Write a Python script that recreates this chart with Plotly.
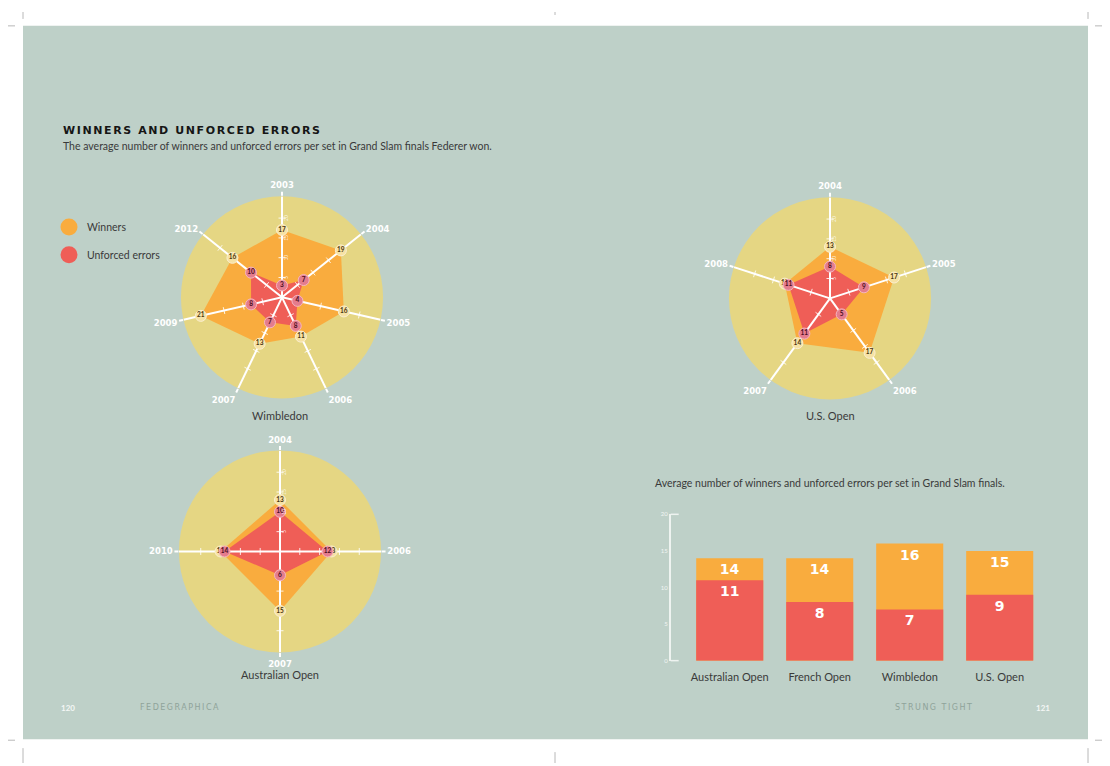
import plotly.graph_objects as go

# The page is shown with an 8px body margin, so the figure is laid out in
# picture pixels shifted by that offset.
OFF = 8
W, H = 1110 - OFF, 766 - OFF


def X(px):
    return (px - OFF) / W


def Y(py):
    return 1 - (py - OFF) / H


# ---------------- data ----------------
wim_years = ["2003", "2004", "2005", "2006", "2007", "2009", "2012"]
wim_winners = [17, 19, 16, 11, 13, 21, 16]
wim_errors = [3, 7, 4, 8, 7, 8, 10]

uso_years = ["2004", "2005", "2006", "2007", "2008"]
uso_winners = [13, 17, 17, 14, 12]
uso_errors = [8, 9, 5, 11, 11]

aus_years = ["2004", "2006", "2007", "2010"]
aus_winners = [13, 13, 15, 15]
aus_errors = [10, 12, 6, 14]

slams = ["Australian Open", "French Open", "Wimbledon", "U.S. Open"]
avg_winners = [14, 14, 16, 15]
avg_errors = [11, 8, 7, 9]

radial_ticks = [5, 10, 15, 20]
bar_ticks = [0, 5, 10, 15, 20]

# ---------------- style ----------------
PAGE = "#BED0C8"
DISC = "#E5D683"
ORANGE = "#F9AC3E"
RED = "#EF5E57"
W_MARK = "#F6E2A4"
E_MARK = "#E47C8D"
DARK = "#3A3A3A"
RMAX = 25.5
BODY = "Lato"
BOLD = "Lato"
GEO = "DejaVu Sans"

fig = go.Figure()


def add_radar(sub, years, winners, errors):
    fig.add_trace(go.Scatterpolar(r=winners, theta=years, fill="toself", fillcolor=ORANGE,
                                  mode="none", subplot=sub, hoverinfo="skip"))
    fig.add_trace(go.Scatterpolar(r=errors, theta=years, fill="toself", fillcolor=RED,
                                  mode="none", subplot=sub, hoverinfo="skip"))
    r_sp, t_sp = [], []
    for y in years:
        r_sp += [0, RMAX, None]
        t_sp += [y, y, None]
    fig.add_trace(go.Scatterpolar(r=r_sp, theta=t_sp, mode="lines",
                                  line=dict(color="white", width=2), subplot=sub,
                                  hoverinfo="skip"))
    n = len(years)
    tr, tt, ta = [], [], []
    for i, y in enumerate(years):
        for v in radial_ticks:
            tr.append(v)
            tt.append(y)
            ta.append(i * 360 / n)
    fig.add_trace(go.Scatterpolar(r=tr, theta=tt, mode="markers", subplot=sub, hoverinfo="skip",
                                  marker=dict(symbol="line-ew", size=5, angle=ta,
                                              line=dict(color="rgba(255,255,255,0.85)", width=1))))
    fig.add_trace(go.Scatterpolar(r=winners, theta=years, mode="markers+text", subplot=sub,
                                  text=[str(v) for v in winners], textposition="middle center",
                                  textfont=dict(family=BOLD, size=6.5, color="#4A3410", weight="bold"),
                                  marker=dict(size=11, color=W_MARK,
                                              line=dict(color="#FBEFD0", width=1))))
    fig.add_trace(go.Scatterpolar(r=errors, theta=years, mode="markers+text", subplot=sub,
                                  text=[str(v) for v in errors], textposition="middle center",
                                  textfont=dict(family=BOLD, size=6.5, color="#4A0E22", weight="bold"),
                                  marker=dict(size=11, color=E_MARK,
                                              line=dict(color="#F5B5C0", width=1))))


def polar_layout(years, cx, cy, rad):
    return dict(
        domain=dict(x=[X(cx - rad), X(cx + rad)], y=[Y(cy + rad), Y(cy - rad)]),
        bgcolor=DISC,
        angularaxis=dict(type="category", categoryorder="array", categoryarray=years,
                         rotation=90, direction="clockwise", showgrid=False, showline=False,
                         ticks="outside", ticklen=4, tickwidth=2, tickcolor="white",
                         tickfont=dict(family=GEO, size=8.5, color="white", weight="bold")),
        radialaxis=dict(range=[0, RMAX], showgrid=False, showline=False, ticks="",
                        tickvals=radial_ticks, angle=90,
                        tickfont=dict(family=BODY, size=5, color="rgba(255,255,255,0.85)")),
    )


add_radar("polar", wim_years, wim_winners, wim_errors)
add_radar("polar2", uso_years, uso_winners, uso_errors)
add_radar("polar3", aus_years, aus_winners, aus_errors)

# ---------------- bars ----------------
fig.add_trace(go.Bar(x=slams, y=avg_winners, marker=dict(color=ORANGE, line=dict(width=0)),
                     width=0.745, text=[str(v) for v in avg_winners], textposition="inside",
                     insidetextanchor="end", textangle=0,
                     textfont=dict(family=GEO, size=14, color="white", weight="bold"),
                     hoverinfo="skip"))
fig.add_trace(go.Bar(x=slams, y=avg_errors, marker=dict(color=RED, line=dict(width=0)),
                     width=0.745, text=[str(v) for v in avg_errors], textposition="inside",
                     insidetextanchor="end", textangle=0,
                     textfont=dict(family=GEO, size=14, color="white", weight="bold"),
                     hoverinfo="skip"))

shapes = []
# page
shapes.append(dict(type="rect", xref="paper", yref="paper", x0=X(23), x1=X(1088), y0=Y(742),
                   y1=Y(22), fillcolor=PAGE, line=dict(width=0), layer="below"))
# crop marks
crop = [
    (23, 8, 23, 15), (8, 22, 15, 22), (555, 8, 555, 11), (1088, 8, 1088, 15), (1095, 22, 1110, 22),
    (8, 743, 15, 743), (23, 751, 23, 766), (555, 755, 555, 766), (1095, 743, 1110, 743),
    (1088, 751, 1088, 766),
]
for x0, y0, x1, y1 in crop:
    shapes.append(dict(type="line", xref="paper", yref="paper", x0=X(x0), y0=Y(y0), x1=X(x1),
                       y1=Y(y1), line=dict(color="#B8B8B8", width=1)))
# bar axis bracket stubs
for yy in (0, 1):
    shapes.append(dict(type="line", xref="x domain", yref="y domain", x0=0, x1=8 / 374, y0=yy,
                       y1=yy, line=dict(color="#EEF3F0", width=1.5)))
# legend dots
for cy, col in ((225, ORANGE), (253, RED)):
    shapes.append(dict(type="circle", xref="paper", yref="paper", xsizemode="pixel",
                       ysizemode="pixel", xanchor=X(69), yanchor=Y(cy), x0=-8.5, x1=8.5,
                       y0=-8.5, y1=8.5, fillcolor=col, line=dict(width=0)))

ann = []


def txt(x, y, s, size, color=DARK, anchor="left", family=BODY, weight="normal"):
    ann.append(dict(x=X(x), y=Y(y), xref="paper", yref="paper", text=s, showarrow=False,
                    xanchor=anchor, yanchor="middle",
                    font=dict(family=family, size=size, color=color, weight=weight)))


txt(61, 128, '<span style="letter-spacing:1.6px">WINNERS AND UNFORCED ERRORS</span>', 11,
    color="#151515", family=GEO, weight="bold")
txt(61, 143, "The average number of winners and unforced errors per set in Grand Slam finals Federer won.",
    10.5)
txt(85, 225, "Winners", 10.5)
txt(85, 253, "Unforced errors", 10.5)
txt(280, 415, "Wimbledon", 11, anchor="center")
txt(830, 415, "U.S. Open", 11, anchor="center")
txt(280, 677, "Australian Open", 11, anchor="center")
txt(653, 483, "Average number of winners and unforced errors per set in Grand Slam finals.", 10.5)
txt(68, 710, "120", 8, color="#F4F7F5", anchor="center", family=BOLD, weight="bold")
txt(138, 710, '<span style="letter-spacing:1.5px">FEDEGRAPHICA</span>', 8, color="#8FA39A",
    family=GEO)
txt(975, 710, '<span style="letter-spacing:1.5px">STRUNG TIGHT</span>', 8, color="#8FA39A",
    anchor="right", family=GEO)
txt(1043, 710, "121", 8, color="#F4F7F5", anchor="center", family=BOLD, weight="bold")

fig.update_layout(
    width=W, height=H, margin=dict(l=0, r=0, t=0, b=0), paper_bgcolor="white",
    plot_bgcolor="rgba(0,0,0,0)", showlegend=False, barmode="overlay",
    polar=polar_layout(wim_years, 282, 296, 102),
    polar2=polar_layout(uso_years, 830, 297, 102),
    polar3=polar_layout(aus_years, 280, 552.5, 102),
    xaxis=dict(domain=[X(670.7), X(1044.7)], range=[-0.656, 3.5], type="category",
               categoryorder="array", categoryarray=slams, showline=False, showgrid=False,
               zeroline=False, ticks="", ticklabelstandoff=8,
               tickfont=dict(family=BODY, size=11, color=DARK)),
    yaxis=dict(domain=[Y(662.7), Y(515)], range=[0, 20], showline=True, linecolor="#EEF3F0",
               linewidth=1.5, showgrid=False, zeroline=False, ticks="", tickvals=bar_ticks,
               tickfont=dict(family=BODY, size=6, color="#F2F5F3")),
    shapes=shapes, annotations=ann,
)

fig.write_html("out.html")
